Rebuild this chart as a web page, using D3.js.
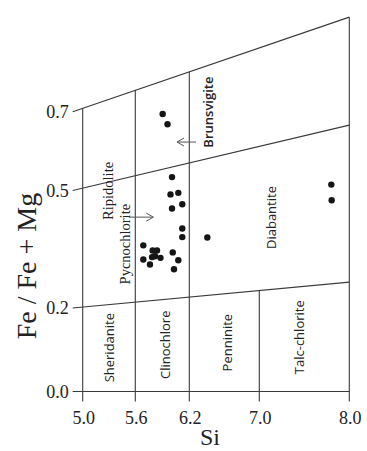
<!DOCTYPE html>
<html>
<head>
<meta charset="utf-8">
<script src="https://cdn.jsdelivr.net/npm/d3@7"></script>
<style>
  body { margin: 0; background: #fff; }
  svg { display: block; }
  .serif { font-family: "Liberation Serif", "Times New Roman", serif; fill: #222; }
  .sans { font-family: "Open Sans", "Noto Sans", sans-serif; fill: #222; }
</style>
</head>
<body>
<div id="chart"></div>
<script>
// chlorite classification (Si vs Fe/Fe+Mg)
const siTicks = [5.0, 5.6, 6.2, 7.0, 8.0];
const feTicks = [0.0, 0.2, 0.5, 0.7];

// field boundaries: value at the left tick and at Si = 8.0
const boundaryLeft = [0.0, 0.2, 0.5, 0.7];
const boundaryRight = [0.0, 0.266, 0.666, 0.940];

// vertical dividers and the boundary (index) they stop at
const dividerSi = [5.0, 5.6, 6.2, 7.0, 8.0];
const dividerTop = [3, 3, 3, 1, 3];

// samples
const sampleSi = [5.904, 5.958, 6.008, 5.991, 6.078, 6.008, 6.122, 6.122, 6.122, 6.406,
                  5.689, 5.689, 5.763, 5.793, 5.841, 5.819, 5.880, 5.786, 6.016, 6.078,
                  6.030, 7.800, 7.804];
const sampleFe = [0.694, 0.668, 0.534, 0.490, 0.494, 0.454, 0.465, 0.403, 0.381, 0.380,
                  0.360, 0.324, 0.311, 0.347, 0.347, 0.332, 0.328, 0.330, 0.342, 0.322,
                  0.299, 0.515, 0.475];

// field names
const regionNames = ["Sheridanite", "Clinochlore", "Penninite", "Talc-chlorite",
                     "Diabantite", "Ripidolite", "Pycnochlorite", "Brunsvigite"];
const regionSi = [5.305, 5.934, 6.631, 7.450, 7.140, 5.289, 5.483, 6.420];
const regionFe = [0.105, 0.112, 0.117, 0.130, 0.431, 0.499, 0.363, 0.699];
const regionSerif = [false, false, false, false, false, true, true, false];

// arrows (from Si -> to Si, at a fixed Fe)
const arrowFromSi = [6.277, 5.527];
const arrowToSi = [6.063, 5.800];
const arrowFe = [0.623, 0.432];

var width = 367, height = 451;
var tickLen = 10;

var svg = d3.select("#chart").append("svg")
  .attr("width", width)
  .attr("height", height);

// the scanned figure is a little uneven, so the scales follow the tick marks
var x = d3.scaleLinear().domain(siTicks).range([82.7, 135.3, 189.3, 259.3, 349.3]);
var y = d3.scaleLinear().domain(feTicks).range([391.5, 308, 190.5, 111.7]);

var lineColor = "#3a3a3a";

// boundary line in pixel space, starting at the tick on the left
function boundaryAt(i, px){
  var x0 = x(siTicks[0]) - tickLen, x1 = x(siTicks[siTicks.length - 1]);
  var y0 = y(boundaryLeft[i]), y1 = y(boundaryRight[i]);
  return y0 + (px - x0) / (x1 - x0) * (y1 - y0);
}

var g = svg.append("g");

boundaryLeft.forEach(function(v, i){
  var x0 = x(siTicks[0]) - tickLen, x1 = x(siTicks[siTicks.length - 1]);
  g.append("line")
    .attr("x1", x0).attr("y1", boundaryAt(i, x0))
    .attr("x2", x1).attr("y2", boundaryAt(i, x1))
    .attr("stroke", lineColor)
    .attr("stroke-width", 1.1);
});

dividerSi.forEach(function(s, i){
  g.append("line")
    .attr("x1", x(s)).attr("y1", boundaryAt(dividerTop[i], x(s)))
    .attr("x2", x(s)).attr("y2", y(0) + tickLen)
    .attr("stroke", lineColor)
    .attr("stroke-width", 1.1);
});

// tick labels
svg.selectAll(".ylab")
  .data(feTicks)
  .enter().append("text")
  .attr("class", "serif")
  .attr("x", x(siTicks[0]) - tickLen - 4)
  .attr("y", function(d){ return y(d) + 6; })
  .attr("text-anchor", "end")
  .style("font-size", "18px")
  .text(function(d){ return d3.format(".1f")(d); });

svg.selectAll(".xlab")
  .data(siTicks)
  .enter().append("text")
  .attr("class", "serif")
  .attr("x", function(d){ return x(d) + 1; })
  .attr("y", 424)
  .attr("text-anchor", "middle")
  .style("font-size", "18px")
  .text(function(d){ return d3.format(".1f")(d); });

// axis titles
svg.append("text")
  .attr("class", "serif")
  .attr("x", 210).attr("y", 445)
  .attr("text-anchor", "middle")
  .style("font-size", "24px")
  .text("Si");

svg.append("text")
  .attr("class", "serif")
  .attr("transform", "translate(36,266) rotate(-90)")
  .attr("text-anchor", "middle")
  .style("font-size", "28px")
  .text("Fe / Fe + Mg");

// field names
regionNames.forEach(function(name, i){
  svg.append("text")
    .attr("class", regionSerif[i] ? "serif" : "sans")
    .attr("transform", "translate(" + x(regionSi[i]) + "," + y(regionFe[i]) + ") rotate(-90)")
    .attr("text-anchor", "middle")
    .attr("dy", "0.35em")
    .style("font-size", regionSerif[i] ? "14.5px" : "13px")
    .style("font-weight", name === "Brunsvigite" ? 600 : 400)
    .text(name);
});

// arrows
arrowFe.forEach(function(f, i){
  var xa = x(arrowFromSi[i]), xb = x(arrowToSi[i]), yy = y(f);
  var dir = xb > xa ? 1 : -1;
  svg.append("line")
    .attr("x1", xa).attr("y1", yy)
    .attr("x2", xb).attr("y2", yy)
    .attr("stroke", "#555").attr("stroke-width", 1);
  svg.append("path")
    .attr("d", "M" + (xb - dir * 7) + "," + (yy - 4) + "L" + xb + "," + yy + "L" + (xb - dir * 7) + "," + (yy + 4))
    .attr("fill", "none")
    .attr("stroke", "#555").attr("stroke-width", 1);
});

// samples
svg.selectAll(".pt")
  .data(sampleSi.map(function(s, i){ return [s, sampleFe[i]]; }))
  .enter().append("circle")
  .attr("cx", function(d){ return x(d[0]); })
  .attr("cy", function(d){ return y(d[1]); })
  .attr("r", 3.2)
  .attr("fill", "#151515");
</script>
</body>
</html>
